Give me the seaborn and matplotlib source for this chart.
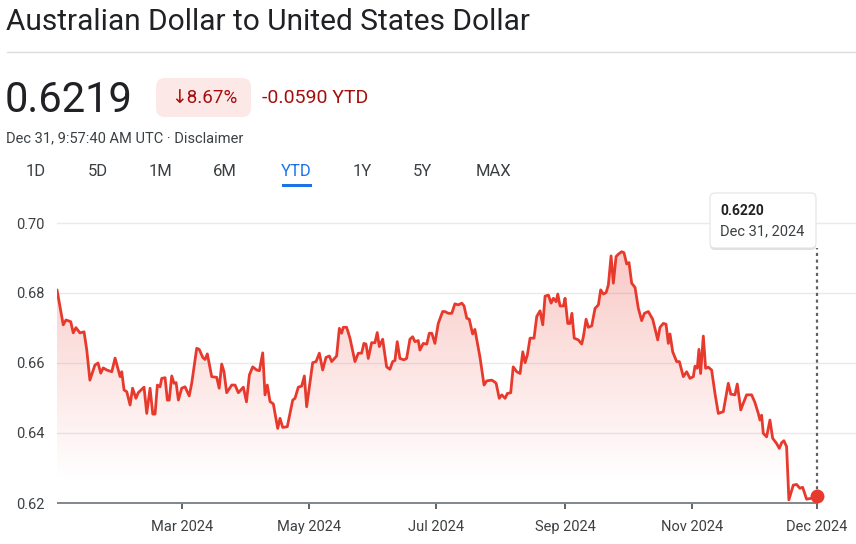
import numpy as np
import pandas as pd
import matplotlib
matplotlib.use("Agg")
import matplotlib.pyplot as plt
import seaborn as sns
from matplotlib.patches import FancyBboxPatch, Rectangle
from matplotlib.lines import Line2D
from matplotlib.transforms import IdentityTransform

# ---------------- data (day of year 2024, 0 = Jan 1) ----------------
days = [0, 3.0, 4.3, 6.6, 7.8, 9.1, 11.0, 13.0, 14.3, 15.8, 18.2, 19.7, 21.0, 22.2, 23.9,
        26.3, 27.9, 30.3, 31.1, 32.2, 33.5, 35.1, 36.3, 37.9, 39.0, 41.8, 43.1, 44.7, 46.0,
        47.1, 48.2, 49.5, 50.3, 51.9, 53.0, 53.9, 55.1, 56.2, 57.2, 58.3, 59.9, 61.5, 63.5,
        64.7, 67.1, 68.3, 70.0, 71.1, 72.2, 74.3, 76.7, 77.9, 79.1, 80.2, 81.5, 83.9, 85.5,
        87.1, 89.5, 91.0, 92.4, 94.0, 95.9, 97.2, 98.8, 99.9, 101.0, 102.3, 103.9, 106.0,
        107.1, 108.4, 110.6, 113.2, 114.3, 115.9, 117.5, 118.8, 119.9, 122.8, 124.4, 126.0,
        127.6, 129.2, 130.8, 131.9, 134.3, 135.6, 136.7, 137.5, 139.1, 140.7, 143.1, 144.7,
        146.3, 147.4, 148.4, 149.5, 151.1, 152.7, 153.8, 154.8, 156.4, 158.3, 159.9, 161.2,
        162.3, 163.4, 164.7, 166.6, 167.9, 169.5, 170.8, 171.9, 173.5, 174.3, 175.9, 177.6,
        178.8, 180.0, 181.5, 183.1, 185.2, 186.3, 187.9, 189.6, 191.1, 192.7, 194.4, 195.5,
        196.8, 198.0, 199.6, 200.7, 203.1, 205.1, 206.4, 208.8, 209.9, 210.9, 212.4, 213.6,
        215.2, 216.3, 217.9, 219.1, 220.8, 222.4, 223.7, 224.8, 225.9, 227.2, 229.1, 230.4,
        232.0, 233.3, 234.4, 236.0, 237.3, 238.4, 239.7, 240.5, 241.6, 243.2, 244.0, 245.3,
        246.4, 247.3, 248.4, 250.4, 252.0, 252.8, 254.1, 255.2, 256.8, 258.4, 260.0, 261.1,
        262.4, 263.7, 264.8, 266.1, 267.2, 268.5, 269.6, 271.2, 272.3, 273.6, 274.7, 276.0,
        277.6, 279.2, 280.8, 282.1, 284.0, 286.1, 287.7, 288.5, 289.6, 291.2, 292.5, 293.6,
        294.4, 295.7, 297.6, 298.9, 300.8, 302.4, 304.0, 305.6, 306.4, 307.5, 308.3, 309.1,
        310.4, 311.5, 312.8, 314.4, 316.0, 317.6, 320.0, 322.4, 323.6, 325.6, 326.7, 328.4,
        329.6, 331.2, 333.6, 335.2, 336.8, 337.6, 338.4, 339.2, 340.8, 342.4, 343.7, 345.6,
        346.9, 348.0, 349.1, 350.4, 351.5, 353.6, 355.2, 356.8, 358.1, 360.0, 361.9, 365.0]
rates = [0.6809, 0.6709, 0.6723, 0.6718, 0.6686, 0.6701, 0.6686, 0.6689, 0.6637, 0.6551,
         0.6594, 0.6600, 0.6571, 0.6586, 0.6580, 0.6575, 0.6614, 0.6561, 0.6575, 0.6523,
         0.6518, 0.6480, 0.6528, 0.6499, 0.6515, 0.6531, 0.6456, 0.6528, 0.6454, 0.6454,
         0.6537, 0.6532, 0.6556, 0.6558, 0.6494, 0.6494, 0.6563, 0.6542, 0.6544, 0.6494,
         0.6528, 0.6532, 0.6506, 0.6542, 0.6642, 0.6639, 0.6616, 0.6610, 0.6626, 0.6561,
         0.6559, 0.6528, 0.6597, 0.6575, 0.6515, 0.6537, 0.6537, 0.6515, 0.6531, 0.6489,
         0.6566, 0.6589, 0.6580, 0.6578, 0.6629, 0.6509, 0.6537, 0.6490, 0.6483, 0.6413,
         0.6442, 0.6416, 0.6418, 0.6494, 0.6499, 0.6531, 0.6534, 0.6563, 0.6475, 0.6601,
         0.6604, 0.6628, 0.6580, 0.6616, 0.6620, 0.6604, 0.6620, 0.6699, 0.6685, 0.6702,
         0.6702, 0.6671, 0.6604, 0.6628, 0.6628, 0.6656, 0.6654, 0.6613, 0.6658, 0.6658,
         0.6687, 0.6647, 0.6668, 0.6589, 0.6582, 0.6604, 0.6607, 0.6661, 0.6613, 0.6609,
         0.6613, 0.6668, 0.6675, 0.6661, 0.6664, 0.6637, 0.6656, 0.6654, 0.6685, 0.6685,
         0.6656, 0.6713, 0.6747, 0.6747, 0.6742, 0.6742, 0.6769, 0.6766, 0.6771, 0.6763,
         0.6728, 0.6725, 0.6683, 0.6696, 0.6618, 0.6537, 0.6549, 0.6551, 0.6547, 0.6542,
         0.6499, 0.6509, 0.6499, 0.6513, 0.6515, 0.6589, 0.6575, 0.6570, 0.6632, 0.6601,
         0.6623, 0.6671, 0.6671, 0.6733, 0.6749, 0.6709, 0.6791, 0.6794, 0.6771, 0.6785,
         0.6775, 0.6797, 0.6763, 0.6763, 0.6785, 0.6713, 0.6713, 0.6742, 0.6671, 0.6666,
         0.6654, 0.6675, 0.6725, 0.6702, 0.6706, 0.6756, 0.6766, 0.6809, 0.6797, 0.6801,
         0.6823, 0.6906, 0.6828, 0.6904, 0.6911, 0.6918, 0.6915, 0.6883, 0.6887, 0.6828,
         0.6816, 0.6756, 0.6721, 0.6742, 0.6747, 0.6725, 0.6685, 0.6666, 0.6702, 0.6713,
         0.6711, 0.6656, 0.6683, 0.6632, 0.6604, 0.6604, 0.6561, 0.6575, 0.6556, 0.6561,
         0.6591, 0.6585, 0.6639, 0.6570, 0.6677, 0.6585, 0.6588, 0.6580, 0.6513, 0.6456,
         0.6461, 0.6542, 0.6511, 0.6509, 0.6540, 0.6466, 0.6485, 0.6509, 0.6509, 0.6487,
         0.6456, 0.6437, 0.6451, 0.6399, 0.6389, 0.6437, 0.6385, 0.6370, 0.6356, 0.6372,
         0.6378, 0.6361, 0.6209, 0.6251, 0.6253, 0.6242, 0.6245, 0.6211, 0.6213, 0.6220]

x_tick_days = [60, 121, 182, 244, 305, 365]
x_tick_labels = ["Mar 2024", "May 2024", "Jul 2024", "Sep 2024", "Nov 2024", "Dec 2024"]
y_ticks = [0.62, 0.64, 0.66, 0.68, 0.70]
y_tick_labels = ["0.62", "0.64", "0.66", "0.68", "0.70"]
range_tabs = ["1D", "5D", "1M", "6M", "YTD", "1Y", "5Y", "MAX"]
active_tab = "YTD"

title = "Australian Dollar to United States Dollar"
price = "0.6219"
pct_change = "\u21938.67%"
abs_change = "-0.0590 YTD"
timestamp = "Dec 31, 9:57:40 AM UTC \u00b7 Disclaimer"
tooltip_date = "Dec 31, 2024"

# ---------------- style ----------------
RED = "#e8392d"
DARK = "#202124"
GREY = "#3c4043"
BLUE = "#1a73e8"
DOWN = "#a50e0e"

W, H = 856, 544
sns.set_theme(style="white")
plt.rcParams["font.family"] = ["Roboto", "DejaVu Sans"]

fig = plt.figure(figsize=(W / 100, H / 100), dpi=100)
fig.patch.set_facecolor("white")


def fx(x):
    return x / W


def fy(y):
    return 1 - y / H


ax = fig.add_axes([fx(57), fy(503), fx(856) - fx(57), fy(223) - fy(503)])
day_max = 365 * (856 - 57) / (817 - 57)

df = pd.DataFrame({"day": days, "rate": rates})

# gradient fill under the line
poly = ax.fill_between(df["day"], df["rate"], 0.62, color="none", lw=0)
yy = np.linspace(0.62, 0.70, 256)
alpha = np.clip((yy - 0.626) / (0.692 - 0.626), 0, 1) * 0.27
rgba = np.zeros((256, 1, 4))
rgba[..., 0] = 0.91
rgba[..., 1] = 0.22
rgba[..., 2] = 0.17
rgba[..., 3] = alpha[:, None]
im = ax.imshow(rgba, extent=[0, 365, 0.62, 0.70], origin="lower", aspect="auto",
               zorder=1, interpolation="bilinear")
im.set_clip_path(poly.get_paths()[0], transform=ax.transData)

# grid lines
for yv in y_ticks[1:]:
    ax.axhline(yv, color="#e8eaed", lw=1, zorder=0, clip_on=False)
ax.hlines(0.62, 0, 365, color="#80868b", lw=1.4, zorder=2, clip_on=False)

sns.lineplot(data=df, x="day", y="rate", color=RED, lw=2.0, ax=ax, zorder=3)

ax.set_xlim(0, day_max)
ax.set_ylim(0.62, 0.70)

# end marker and dashed guide
ax.plot([days[-1]], [rates[-1]], "o", ms=9, color=RED, zorder=5, clip_on=False)
top_val = ax.transData.inverted().transform((0, H - 248))[1]
ax.plot([days[-1], days[-1]], [rates[-1], top_val], ls=(0, (1.4, 1.6)), color="#5f6368",
        lw=1.6, zorder=4, clip_on=False)

for s in ax.spines.values():
    s.set_visible(False)
ax.set_xticks(x_tick_days)
ax.set_xticklabels(x_tick_labels)
ax.set_yticks(y_ticks)
ax.set_yticklabels(y_tick_labels)
ax.tick_params(axis="x", bottom=True, length=4, width=1.4, color="#5f6368", pad=8,
               labelsize=10.5, labelcolor=GREY)
ax.tick_params(axis="y", left=False, length=0, pad=9, labelsize=10.5, labelcolor=GREY)
ax.set_xlabel("")
ax.set_ylabel("")
ax.grid(False)

# ---------------- header ----------------
fig.text(fx(6), fy(22), title, fontsize=21.5, va="center", color=DARK)
fig.add_artist(Line2D([fx(7), 1], [fy(52), fy(52)], color="#dadce0", lw=1))
fig.text(fx(5), fy(100), price, fontsize=30, va="center", color=DARK)

idt = IdentityTransform()
badge = FancyBboxPatch((156, H - 117), 95, 39, boxstyle="round,pad=0,rounding_size=9",
                       fc="#fce8e6", ec="none", transform=idt)
fig.add_artist(badge)
fig.text(fx(204), fy(98), pct_change, fontsize=13.5, ha="center", va="center", color=DOWN)
fig.text(fx(262), fy(98), abs_change, fontsize=14, va="center", color=DOWN)
fig.text(fx(6), fy(138), timestamp, fontsize=10.5, va="center", color=GREY)

tab_x = [36, 98, 161, 225, 296, 362, 422, 493]
for lab, tx in zip(range_tabs, tab_x):
    fig.text(fx(tx), fy(172), lab, fontsize=12, ha="center", va="center",
             color=BLUE if lab == active_tab else GREY)
fig.add_artist(Rectangle((282, H - 187), 30, 3, fc=BLUE, ec="none", transform=idt))

# ---------------- tooltip ----------------
shadow = FancyBboxPatch((710, H - 250), 106, 55, boxstyle="round,pad=0,rounding_size=5",
                        fc="#000000", ec="none", alpha=0.12, transform=idt)
box = FancyBboxPatch((710, H - 248), 106, 55, boxstyle="round,pad=0,rounding_size=5",
                     fc="white", ec="#e3e3e3", lw=0.8, transform=idt)
fig.add_artist(shadow)
fig.add_artist(box)
fig.text(fx(720), fy(211), f"{rates[-1]:.4f}", fontsize=10, fontweight="bold",
         va="center", color=DARK)
fig.text(fx(720), fy(231), tooltip_date, fontsize=10.5, va="center", color=GREY)

fig.savefig("out.png", dpi=100, facecolor="white")
